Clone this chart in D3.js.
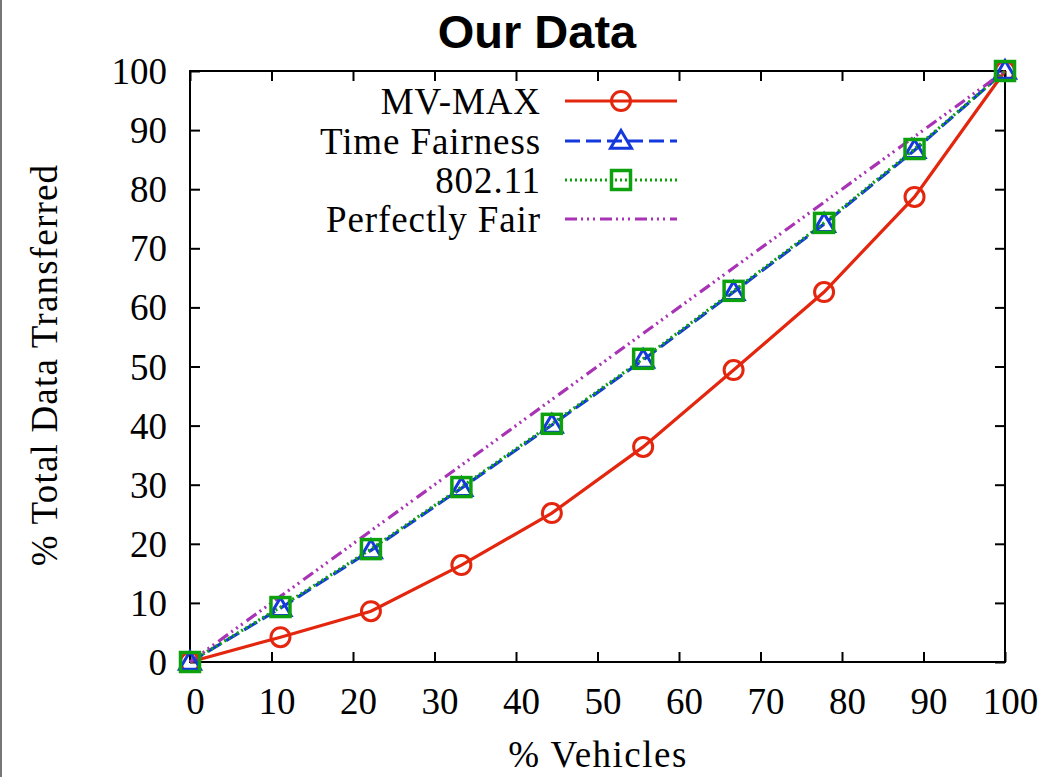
<!DOCTYPE html>
<html>
<head>
<meta charset="utf-8">
<script src="https://cdn.jsdelivr.net/npm/d3@7"></script>
<style>
  html, body { margin: 0; padding: 0; background: #fff; }
  svg { display: block; }
</style>
</head>
<body>
<svg id="chart" width="1043" height="777"></svg>
<script>
// Share of vehicles (x) vs. cumulative share of data transferred (y)
const vehiclesPct = [0, 11.1, 22.2, 33.3, 44.4, 55.6, 66.7, 77.8, 88.9, 100];
const mvMax       = [0, 4.2, 8.6, 16.4, 25.2, 36.4, 49.4, 62.6, 78.7, 100];
const timeFair    = [0, 9.1, 18.9, 29.4, 40.1, 51.1, 62.6, 74.1, 86.6, 100];
const wifi80211   = [0, 9.3, 19.1, 29.6, 40.3, 51.3, 62.8, 74.3, 86.8, 100];
const perfectFair = [0, 11.1, 22.2, 33.3, 44.4, 55.6, 66.7, 77.8, 88.9, 100];
const xTicks = [0, 10, 20, 30, 40, 50, 60, 70, 80, 90, 100];
const yTicks = [0, 10, 20, 30, 40, 50, 60, 70, 80, 90, 100];

const series = [
  { name: "MV-MAX",         values: mvMax,       color: "#e3260d", dash: null,             marker: "circle"   },
  { name: "Time Fairness",  values: timeFair,    color: "#1438dc", dash: "15,6",           marker: "triangle" },
  { name: "802.11",         values: wifi80211,   color: "#0ea10e", dash: "2,3",            marker: "square"   },
  { name: "Perfectly Fair", values: perfectFair, color: "#a833b4", dash: "12,4,2,4,2,4,2,5", marker: null     }
];

const svg = d3.select("#chart");
const plotL = 190, plotR = 1005, plotT = 71, plotB = 662;
const x = d3.scaleLinear().domain([0, 100]).range([plotL, plotR]);
const y = d3.scaleLinear().domain([0, 100]).range([plotB, plotT]);

// thin grey rule at the left edge
svg.append("line").attr("x1", 1).attr("x2", 1).attr("y1", 0).attr("y2", 777)
  .attr("stroke", "#777").attr("stroke-width", 2);

const serif = "'Liberation Serif', 'Times New Roman', serif";
const fontSize = 37;
const tickLen = 10;

// axes with mirrored ticks
const axB = svg.append("g").attr("transform", `translate(0,${plotB})`)
  .call(d3.axisBottom(x).tickValues(xTicks).tickSize(-tickLen).tickPadding(26));
const axT = svg.append("g").attr("transform", `translate(0,${plotT})`)
  .call(d3.axisTop(x).tickValues(xTicks).tickSize(-tickLen).tickFormat(""));
const axL = svg.append("g").attr("transform", `translate(${plotL},0)`)
  .call(d3.axisLeft(y).tickValues(yTicks).tickSize(-tickLen).tickPadding(23));
const axR = svg.append("g").attr("transform", `translate(${plotR},0)`)
  .call(d3.axisRight(y).tickValues(yTicks).tickSize(-tickLen).tickFormat(""));

[axB, axT, axL, axR].forEach(g => {
  g.select(".domain").remove();
  g.selectAll(".tick line").attr("stroke", "#000").attr("stroke-width", 2);
  g.selectAll("text").attr("font-family", serif).attr("font-size", fontSize).attr("fill", "#000");
});
axB.selectAll(".tick text").attr("dy", "0.71em").attr("dx", 5);
axL.selectAll(".tick text").attr("dy", "0.34em");

// plot frame
svg.append("rect").attr("x", plotL).attr("y", plotT)
  .attr("width", plotR - plotL).attr("height", plotB - plotT)
  .attr("fill", "none").attr("stroke", "#000").attr("stroke-width", 2);

// lines
const line = d3.line().x((d, i) => x(vehiclesPct[i])).y(d => y(d));
series.forEach(s => {
  svg.append("path").datum(s.values)
    .attr("d", line)
    .attr("fill", "none")
    .attr("stroke", s.color)
    .attr("stroke-width", 3.2)
    .attr("stroke-dasharray", s.dash);
});

// point markers
function drawMarker(g, type, color, cx, cy) {
  if (type === "circle") {
    g.append("circle").attr("cx", cx).attr("cy", cy).attr("r", 9.5)
      .attr("fill", "none").attr("stroke", color).attr("stroke-width", 3);
  } else if (type === "triangle") {
    const s = 10.5;
    g.append("path")
      .attr("d", `M${cx},${cy - s}L${cx + s},${cy + s * 0.7}L${cx - s},${cy + s * 0.7}Z`)
      .attr("fill", "none").attr("stroke", color).attr("stroke-width", 3);
  } else if (type === "square") {
    const s = 9.5;
    g.append("rect").attr("x", cx - s).attr("y", cy - s).attr("width", 2 * s).attr("height", 2 * s)
      .attr("fill", "none").attr("stroke", color).attr("stroke-width", 3.5);
  }
}
const markers = svg.append("g");
series.forEach(s => {
  if (!s.marker) return;
  s.values.forEach((v, i) => drawMarker(markers, s.marker, s.color, x(vehiclesPct[i]), y(v)));
});

// legend
const legend = svg.append("g");
const legendRows = [101, 141, 180, 219];
series.forEach((s, i) => {
  const ly = legendRows[i];
  legend.append("text").attr("x", 541).attr("y", ly).attr("dy", "0.34em")
    .attr("text-anchor", "end").attr("font-family", serif).attr("font-size", fontSize)
    .attr("letter-spacing", 0.9)
    .text(s.name);
  legend.append("line").attr("x1", 565).attr("x2", 677).attr("y1", ly).attr("y2", ly)
    .attr("stroke", s.color).attr("stroke-width", 3.2).attr("stroke-dasharray", s.dash);
  if (s.marker) drawMarker(legend, s.marker, s.color, 621, ly);
});

// titles
svg.append("text").attr("x", 537).attr("y", 48).attr("text-anchor", "middle")
  .attr("font-family", "'Liberation Sans', Arial, sans-serif").attr("font-weight", "bold")
  .attr("font-size", 47).text("Our Data");
svg.append("text").attr("x", 598).attr("y", 767).attr("text-anchor", "middle")
  .attr("font-family", serif).attr("font-size", fontSize).attr("letter-spacing", 1.5)
  .text("% Vehicles");
svg.append("text").attr("transform", "translate(57,365) rotate(-90)")
  .attr("text-anchor", "middle").attr("font-family", serif).attr("font-size", fontSize)
  .attr("letter-spacing", 1.2)
  .text("% Total Data Transferred");
</script>
</body>
</html>
